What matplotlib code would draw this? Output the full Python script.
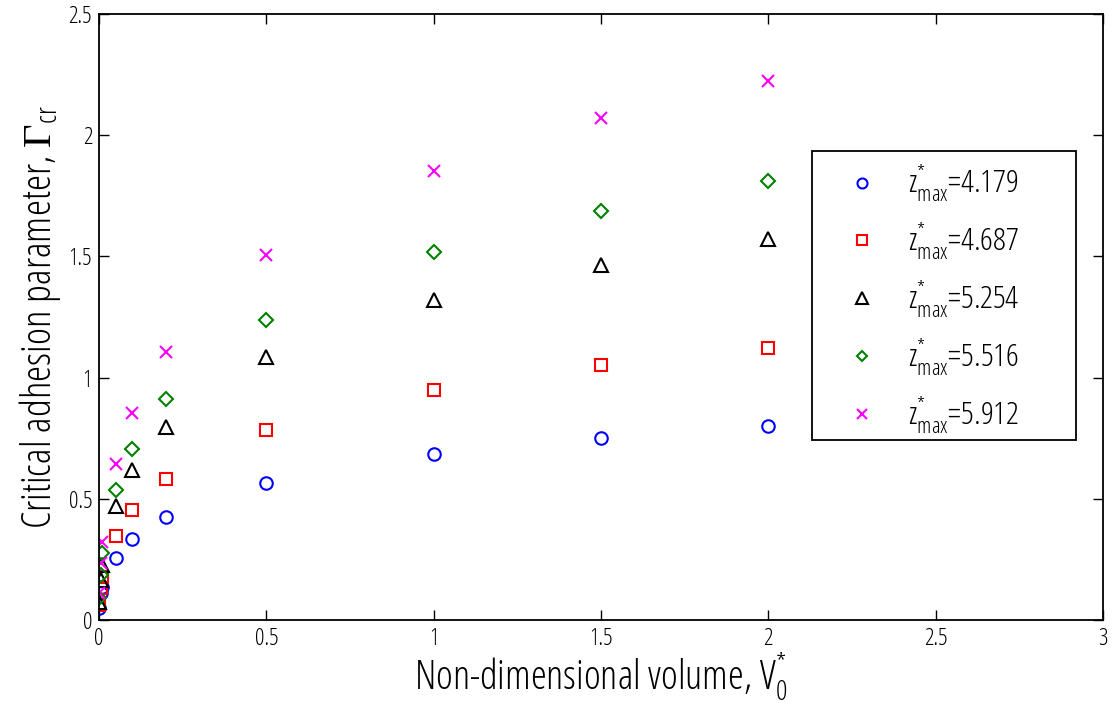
import matplotlib
matplotlib.use('Agg')
import matplotlib.pyplot as plt
from matplotlib.patches import Rectangle
import numpy as np

plt.rcParams['font.family'] = ['Open Sans', 'DejaVu Sans']
plt.rcParams['font.stretch'] = 'condensed'
plt.rcParams['font.weight'] = 'light'
plt.rcParams['mathtext.fontset'] = 'custom'
plt.rcParams['mathtext.rm'] = 'Open Sans:weight=light:stretch=condensed'
plt.rcParams['mathtext.sf'] = 'Open Sans:weight=light:stretch=condensed'
plt.rcParams['mathtext.it'] = 'Open Sans:weight=light:stretch=condensed'
plt.rcParams['mathtext.tt'] = 'Liberation Serif'

# non-dimensional volume V0*
vol = [0.001, 0.005, 0.01, 0.05, 0.1, 0.2, 0.5, 1.0, 1.5, 2.0]

# critical adhesion parameter for each z*max
g_4179 = [0.050, 0.110, 0.137, 0.255, 0.334, 0.426, 0.566, 0.684, 0.752, 0.800]
g_4687 = [0.062, 0.130, 0.179, 0.347, 0.452, 0.580, 0.784, 0.950, 1.051, 1.122]
g_5254 = [0.075, 0.165, 0.227, 0.472, 0.620, 0.797, 1.083, 1.320, 1.465, 1.572]
g_5516 = [0.090, 0.186, 0.275, 0.538, 0.704, 0.912, 1.239, 1.518, 1.689, 1.812]
g_5912 = [0.110, 0.234, 0.320, 0.645, 0.853, 1.104, 1.506, 1.852, 2.070, 2.225]

zmax = ['4.179', '4.687', '5.254', '5.516', '5.912']
series = [g_4179, g_4687, g_5254, g_5516, g_5912]
markers = ['o', 's', '^', 'D', 'x']
colors = ['#0000ff', '#ff0000', '#000000', '#008000', '#ff00ff']
sizes = [9, 9, 10, 7, 9]

fig = plt.figure(figsize=(11.15, 7.1), dpi=100)
ax = fig.add_axes([0.0888, 0.1268, 0.9004, 0.8535])

for y, m, c, s, z in zip(series, markers, colors, sizes, zmax):
	ax.plot(vol, y, linestyle='none', marker=m, markersize=s, markerfacecolor='none',
		markeredgecolor=c, markeredgewidth=1.5, color=c,
		label=r'$\mathrm{z}^{*}_{\mathrm{max}}$' + '=' + z)

ax.set_xlim(0, 3)
ax.set_ylim(0, 2.5)
ax.set_xticks(np.arange(0, 3.01, 0.5))
ax.set_yticks(np.arange(0, 2.51, 0.5))
ax.set_xticklabels(['0', '0.5', '1', '1.5', '2', '2.5', '3'])
ax.set_yticklabels(['0', '0.5', '1', '1.5', '2', '2.5'])
ax.tick_params(direction='in', top=True, right=True, length=7, width=1, labelsize=17, pad=5)
for sp in ax.spines.values():
	sp.set_linewidth(1.3)

ax.set_xlabel(r'Non-dimensional volume, $\mathrm{V}^{*}_{0}$', fontsize=29, labelpad=0)
ax.set_ylabel(r'Critical adhesion parameter, $\mathtt{\Gamma}_{\mathrm{cr}}$', fontsize=29.5, labelpad=4)

# legend box drawn separately (matlab style, wide right margin)
ax.add_patch(Rectangle((0.710, 0.297), 0.263, 0.477, transform=ax.transAxes,
	fill=False, edgecolor='black', linewidth=1.3, zorder=5))
leg = ax.legend(loc='upper left', bbox_to_anchor=(0.736, 0.754), fontsize=23,
	frameon=False, borderpad=0, labelspacing=0.52, handletextpad=0.69,
	borderaxespad=0, handlelength=1.5, markerscale=0.8)

plt.savefig('out.png', dpi=100)
